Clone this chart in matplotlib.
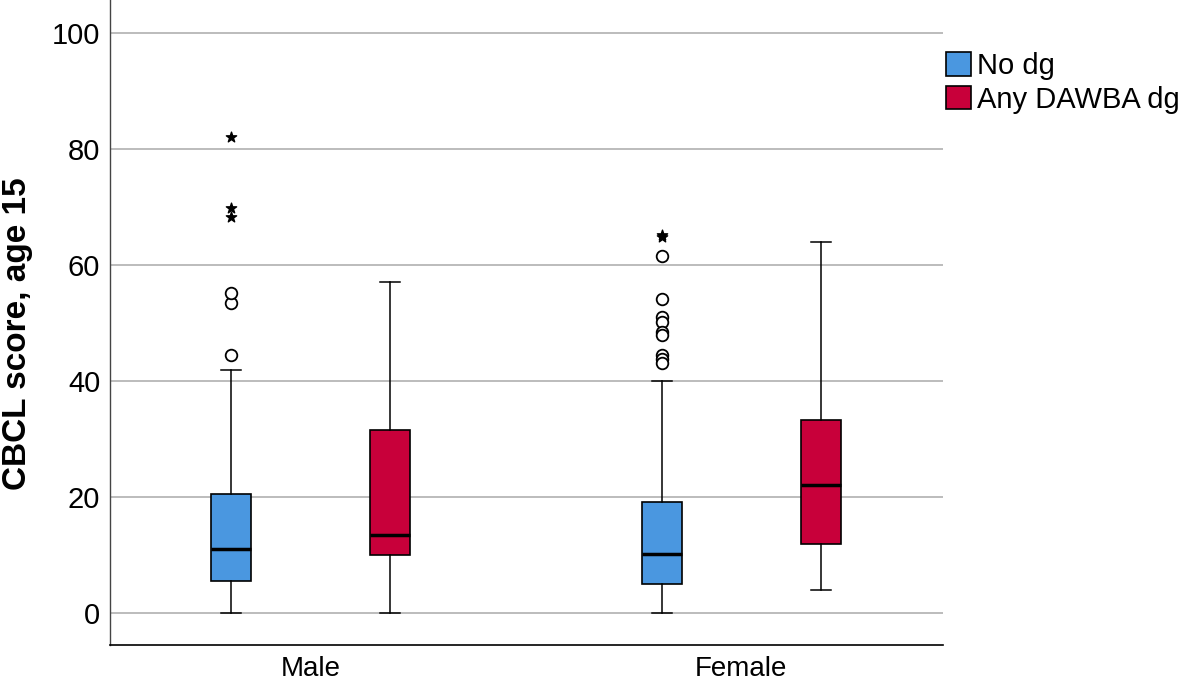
import matplotlib
matplotlib.use("Agg")
import matplotlib.pyplot as plt
from matplotlib.patches import Patch

plt.rcParams['font.family'] = ['Liberation Sans', 'DejaVu Sans']

categories = ["Male", "Female"]
groups = ["No dg", "Any DAWBA dg"]
colors = ["#4a97e0", "#c8003a"]

# per group: whislo, q1, med, q3, whishi
stats_male_nodg = [0.0, 5.5, 11.0, 20.5, 41.9]
stats_male_any = [0.0, 10.0, 13.4, 31.6, 57.1]
stats_female_nodg = [0.0, 5.0, 10.2, 19.1, 40.0]
stats_female_any = [4.0, 11.9, 22.1, 33.3, 64.0]

circles_male_nodg = [44.5, 53.4, 55.2]
stars_male_nodg = [82.1, 69.8, 68.3]
circles_female_nodg = [61.6, 54.1, 51.0, 50.2, 48.4, 48.0, 44.5, 43.8, 43.1]
stars_female_nodg = [64.8, 65.2]

all_stats = [[stats_male_nodg, stats_male_any], [stats_female_nodg, stats_female_any]]
all_circles = [[circles_male_nodg, []], [circles_female_nodg, []]]
all_stars = [[stars_male_nodg, []], [stars_female_nodg, []]]

fig = plt.figure(figsize=(11.83, 6.82), dpi=100)
ax = fig.add_axes([0.093, 0.0543, 0.704, 0.9457])

offset = 0.1845
width = 0.093
for ci, cat in enumerate(categories):
    for gi in range(2):
        s = all_stats[ci][gi]
        pos = ci + (gi - 0.5) * 2 * offset
        st = dict(whislo=s[0], q1=s[1], med=s[2], q3=s[3], whishi=s[4], fliers=[])
        ax.bxp([st], positions=[pos], widths=width, capwidths=0.046, patch_artist=True,
               showfliers=False,
               boxprops=dict(facecolor=colors[gi], edgecolor="black", linewidth=1.2),
               medianprops=dict(color="black", linewidth=2.5),
               whiskerprops=dict(color="black", linewidth=1.1),
               capprops=dict(color="black", linewidth=1.1), zorder=3)
        c = all_circles[ci][gi]
        if c:
            ax.scatter([pos] * len(c), c, s=70, facecolors="white", edgecolors="black",
                       linewidths=1.3, zorder=4)
        sr = all_stars[ci][gi]
        if sr:
            ax.scatter([pos] * len(sr), sr, s=60, marker="*", color="black", zorder=4)

ax.set_xlim(-0.465, 1.4675)
ax.set_ylim(-5.5, 105.7)
ax.set_xticks([0, 1])
ax.set_xticklabels(categories, fontsize=20)
ax.set_yticks([0, 20, 40, 60, 80, 100])
ax.tick_params(axis="y", labelsize=21, length=0, pad=7)
ax.tick_params(axis="x", length=0, pad=8)
ax.grid(axis="y", color="#b0b0b0", linewidth=1.2, zorder=0)
ax.set_axisbelow(True)
for sp in ["top", "right"]:
    ax.spines[sp].set_visible(False)
ax.spines["left"].set_linewidth(1.0)
ax.spines["left"].set_color("#444444")
ax.spines["bottom"].set_linewidth(1.2)
ax.set_ylabel("CBCL score, age 15", fontsize=24, fontweight="bold")
ax.yaxis.set_label_coords(-0.0925, 0.482)

handles = [Patch(facecolor=colors[i], edgecolor="black", linewidth=1.2, label=groups[i]) for i in range(2)]
fig.legend(handles=handles, loc="upper left", bbox_to_anchor=(946 / 1183, 1 - 52 / 682),
           frameon=False, borderpad=0, borderaxespad=0,
           fontsize=21, handlelength=0.86, handleheight=0.86, handletextpad=0.2,
           labelspacing=0.2)

fig.savefig("out.png", dpi=100)
